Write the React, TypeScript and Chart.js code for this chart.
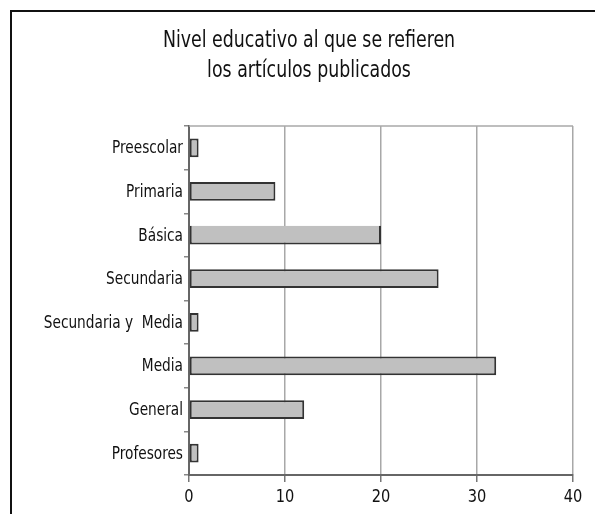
import React, { useEffect, useRef } from "react";
import { Chart, registerables } from "chart.js";

Chart.register(...registerables);

const categories = [
  "Preescolar",
  "Primaria",
  "Básica",
  "Secundaria",
  "Secundaria y  Media",
  "Media",
  "General",
  "Profesores",
];
const values = [1, 9, 20, 26, 1, 32, 12, 1];
const xTicks = [0, 10, 20, 30, 40];
const titleLines = ["Nivel educativo al que se refieren", "los artículos publicados"];

const FONT = "'Liberation Sans Narrow', 'DejaVu Sans Condensed', 'Liberation Sans', Arial, sans-serif";

export default function App() {
  const ref = useRef<HTMLCanvasElement | null>(null);

  useEffect(() => {
    if (!ref.current) return;
    const borderWidths = categories.map((c) =>
      c === "Básica" ? { top: 0, right: 2, bottom: 2, left: 2 } : 2
    );
    const chart = new Chart(ref.current, {
      type: "bar",
      data: {
        labels: categories,
        datasets: [
          {
            data: values,
            backgroundColor: "#c0c0c0",
            borderColor: "#333333",
            borderWidth: borderWidths as any,
            borderSkipped: false,
            categoryPercentage: 1,
            barPercentage: 0.43,
          },
        ],
      },
      options: {
        indexAxis: "y",
        responsive: false,
        animation: false,
        layout: { padding: { top: 126, right: 22, bottom: 0, left: 0 } },
        plugins: {
          legend: { display: false },
          tooltip: { enabled: false },
          title: { display: false },
        },
        scales: {
          x: {
            min: xTicks[0],
            max: xTicks[xTicks.length - 1],
            afterBuildTicks: (s: any) => {
              s.ticks = xTicks.map((v) => ({ value: v }));
            },
            afterFit: (s: any) => {
              s.height = 39;
            },
            grid: {
              color: "#a8a8a8",
              lineWidth: 1.5,
              tickColor: "#777",
              tickLength: 7,
            },
            border: { color: "#666", width: 2 },
            ticks: { display: false },
          },
          y: {
            afterFit: (s: any) => {
              s.width = 189;
            },
            grid: {
              drawOnChartArea: false,
              tickColor: "#888",
              tickLength: 5,
              lineWidth: 1.5,
              offset: true,
            },
            border: { color: "#666", width: 2 },
            ticks: { display: false },
          },
        },
      },
      plugins: [
        {
          id: "frame",
          beforeDatasetsDraw(c: any) {
            const a = c.chartArea;
            const ctx = c.ctx;
            ctx.save();
            ctx.strokeStyle = "#a8a8a8";
            ctx.lineWidth = 1.5;
            ctx.beginPath();
            ctx.moveTo(a.left, a.top);
            ctx.lineTo(a.right, a.top);
            ctx.stroke();
            ctx.restore();
          },
        },
        {
          id: "narrowText",
          afterDraw(c: any) {
            const ctx = c.ctx;
            const drawNarrow = (
              text: string,
              x: number,
              y: number,
              size: number,
              sx: number,
              align: CanvasTextAlign
            ) => {
              ctx.save();
              ctx.fillStyle = "#111";
              ctx.font = `${size}px ${FONT}`;
              ctx.textAlign = align;
              ctx.textBaseline = "middle";
              ctx.translate(x, y);
              ctx.scale(sx, 1);
              ctx.fillText(text, 0, 0);
              ctx.restore();
            };
            titleLines.forEach((line, i) => {
              drawNarrow(line, 309, 41 + i * 30, 23, 0.84, "center");
            });
            const ys = c.scales.y;
            categories.forEach((lab, i) => {
              drawNarrow(lab, ys.right - 6, ys.getPixelForTick(i) + 1, 17.5, 0.87, "right");
            });
            const xs = c.scales.x;
            xTicks.forEach((v) => {
              drawNarrow(String(v), xs.getPixelForValue(v), xs.top + 22, 18, 0.9, "center");
            });
          },
        },
      ],
    } as any);
    return () => chart.destroy();
  }, []);

  return (
    <>
      <div
        style={{
          position: "fixed",
          left: 10,
          top: 10,
          width: 600,
          height: 520,
          border: "2px solid #111",
          boxSizing: "border-box",
          background: "#fff",
        }}
      />
      <canvas
        ref={ref}
        width={595}
        height={514}
        style={{ position: "fixed", left: 0, top: 0, display: "block" }}
      />
    </>
  );
}
